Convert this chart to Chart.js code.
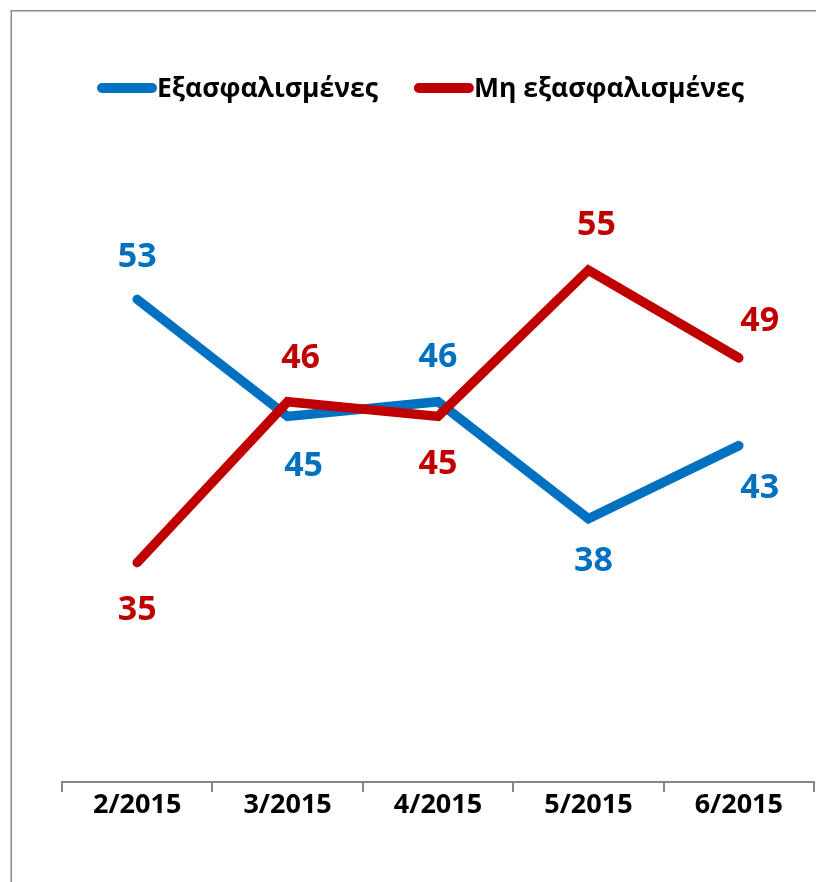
<!DOCTYPE html>
<html>
<head>
<meta charset="utf-8">
<script src="https://cdn.jsdelivr.net/npm/chart.js@4/dist/chart.umd.min.js"></script>
<style>
html,body{margin:0;padding:0;background:#fff;overflow:hidden;}
#wrap{position:absolute;left:0;top:0;width:816px;height:882px;}
</style>
</head>
<body>
<div id="wrap"><canvas id="c" width="816" height="882"></canvas></div>
<script>
const categories = ['2/2015', '3/2015', '4/2015', '5/2015', '6/2015'];
const seriesNames = ['Εξασφαλισμένες', 'Μη εξασφαλισμένες'];
const insured = [53, 45, 46, 38, 43];
const uninsured = [35, 46, 45, 55, 49];

const FONT = "'Open Sans', 'Noto Sans', sans-serif";
const BLUE = '#0070C0';
const RED = '#C00000';

// label placement offsets (dx, dy) of label centre relative to each point
const labelOffsets = {
  0: [[0,-42],[16,50],[0,-44],[5,43],[21,43]],
  1: [[0,48],[13,-43],[0,48],[8,-45],[21,-37]]
};

const framePlugin = {
  id: 'frame',
  beforeDraw(chart) {
    const ctx = chart.ctx;
    ctx.save();
    ctx.strokeStyle = '#8a8a8a';
    ctx.lineWidth = 1.5;
    ctx.beginPath();
    ctx.moveTo(11.25, 882);
    ctx.lineTo(11.25, 10.75);
    ctx.lineTo(816, 10.75);
    ctx.stroke();
    ctx.restore();
  }
};

const legendPlugin = {
  id: 'customLegend',
  afterDraw(chart) {
    const ctx = chart.ctx;
    ctx.save();
    ctx.font = 'bold 26.5px ' + FONT;
    ctx.textBaseline = 'middle';
    let x = 97;
    const y = 88;
    chart.data.datasets.forEach((ds, i) => {
      ctx.strokeStyle = ds.borderColor;
      ctx.lineWidth = 10;
      ctx.lineCap = 'round';
      ctx.beginPath();
      ctx.moveTo(x + 5, y);
      ctx.lineTo(x + 55, y);
      ctx.stroke();
      ctx.fillStyle = '#000';
      ctx.textAlign = 'left';
      ctx.fillText(ds.label, x + 60, y + 1);
      x += 60 + ctx.measureText(ds.label).width + 36;
    });
    ctx.restore();
  }
};

const labelPlugin = {
  id: 'pointLabels',
  afterDatasetsDraw(chart) {
    const ctx = chart.ctx;
    ctx.save();
    ctx.font = 'bold 34px ' + FONT;
    ctx.textAlign = 'center';
    ctx.textBaseline = 'middle';
    chart.data.datasets.forEach((ds, di) => {
      const meta = chart.getDatasetMeta(di);
      ctx.fillStyle = ds.borderColor;
      meta.data.forEach((pt, i) => {
        const off = labelOffsets[di][i];
        ctx.fillText(String(ds.data[i]), pt.x + off[0], pt.y + off[1]);
      });
    });
    ctx.restore();
  }
};

new Chart(document.getElementById('c'), {
  type: 'line',
  data: {
    labels: categories,
    datasets: [
      { label: seriesNames[0], data: insured, borderColor: BLUE, backgroundColor: BLUE, borderWidth: 9.5,
        pointRadius: 0, pointHoverRadius: 0, tension: 0, borderCapStyle: 'round', borderJoinStyle: 'miter', order: 1 },
      { label: seriesNames[1], data: uninsured, borderColor: RED, backgroundColor: RED, borderWidth: 9.5,
        pointRadius: 0, pointHoverRadius: 0, tension: 0, borderCapStyle: 'round', borderJoinStyle: 'miter', order: 0 }
    ]
  },
  options: {
    responsive: false,
    animation: false,
    devicePixelRatio: 1,
    layout: { padding: { left: 62, right: 2, top: 197, bottom: 63 } },
    plugins: { legend: { display: false }, tooltip: { enabled: false } },
    scales: {
      x: {
        offset: true,
        grid: { display: true, drawOnChartArea: false, color: '#868686', lineWidth: 2, tickLength: 10, offset: true },
        border: { display: true, color: '#868686', width: 2 },
        ticks: { color: '#000', font: { family: FONT, size: 27, weight: 'bold', lineHeight: 1 }, padding: 0, maxRotation: 0 }
      },
      y: { display: false, min: 20, max: 60 }
    }
  },
  plugins: [framePlugin, legendPlugin, labelPlugin]
});
</script>
</body>
</html>
